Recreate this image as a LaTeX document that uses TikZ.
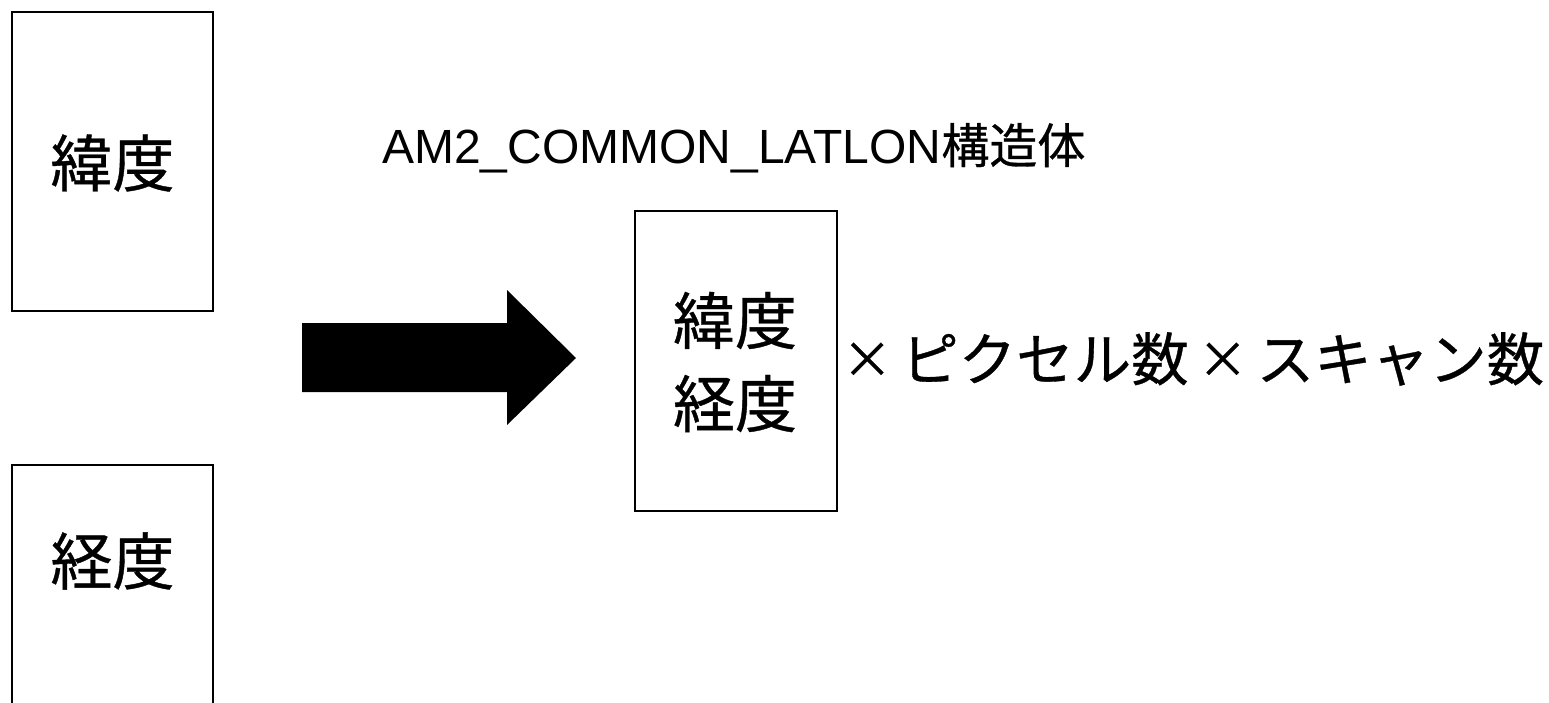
\documentclass[tikz,border=0pt]{standalone}
\usepackage{fontspec}
\setmainfont{Liberation Sans}
\newfontfamily\cjk[FakeBold=0.6]{Noto Sans CJK JP}
\newcommand\tms{\makebox[68pt][c]{\fontsize{50}{50}\selectfont\raisebox{3pt}{×}}}
\tikzset{
  box/.style={draw=black, line width=1.3pt, rectangle, inner sep=0pt},
  big/.style={font=\cjk\fontsize{62}{83}\selectfont, inner sep=0pt},
  mult/.style={font=\cjk\fontsize{57.5}{60}\selectfont, inner sep=0pt},
  mid/.style={font=\fontsize{48}{60}\selectfont, inner sep=0pt},
}
\begin{document}
\begin{tikzpicture}[x=1pt,y=-1pt]
\useasboundingbox (0,0) rectangle (1549,702);
\clip (0,0) rectangle (1549,702);
% boxes
\node[box, minimum width=201pt, minimum height=299pt] (lat) at (112.5,161.5) {};
\node[box, minimum width=201pt, minimum height=300pt] (lon) at (112.5,615) {};
\node[box, minimum width=202pt, minimum height=300pt] (st) at (736,361) {};
% texts
\node[big] (latt) at (112.5,163) {緯度};
\node[big] (lont) at (112.5,561) {経度};
\node[big, align=center] (stt) at (735,362) {緯度\\経度};
\node[mid, anchor=west] (title) at (382,148) {AM2\_COMMON\_LATLON{\cjk 構造体}};
\node[mult, anchor=west] (multt) at (833,359) {\tms ピクセル数\tms スキャン数};
% block arrow
\fill[black] (302,323) -- (507,323) -- (507,290) -- (576,358) -- (507,425) -- (507,392) -- (302,392) -- cycle;
\end{tikzpicture}
\end{document}
